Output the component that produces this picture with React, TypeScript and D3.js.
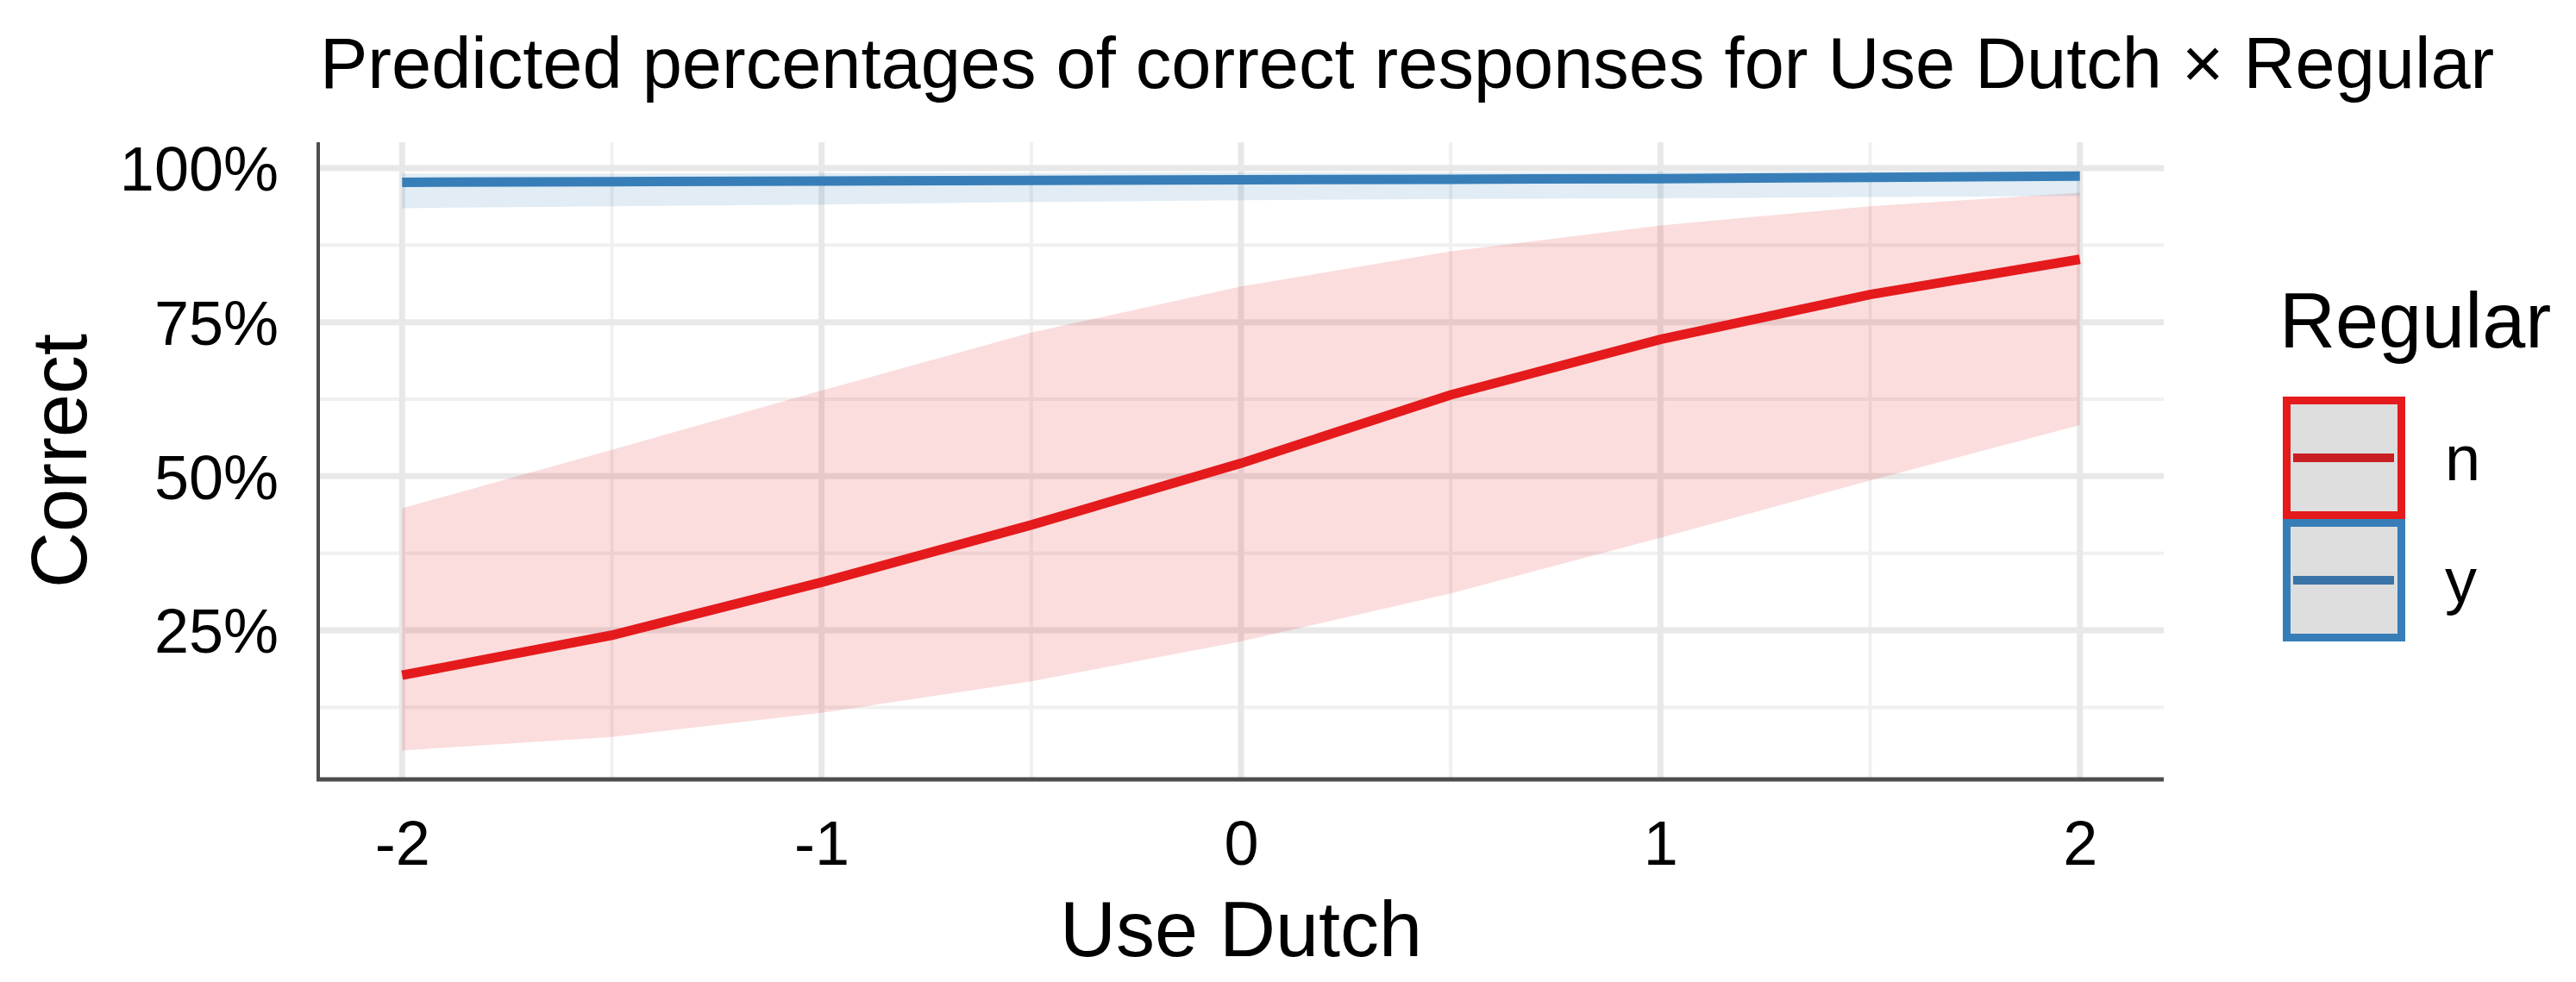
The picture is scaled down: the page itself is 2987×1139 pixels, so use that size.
import * as d3 from 'd3';
import { useEffect, useRef } from 'react';

// Use Dutch (x) values where the model was evaluated
const useDutch = [-2, -1.5, -1, -0.5, 0, 0.5, 1, 1.5, 2];

// Regular = n : predicted proportion correct and its confidence band
const nFit = [0.177, 0.242, 0.328, 0.421, 0.521, 0.632, 0.722, 0.795, 0.852];
const nLower = [0.055, 0.077, 0.116, 0.167, 0.232, 0.31, 0.4, 0.493, 0.583];
const nUpper = [0.448, 0.543, 0.639, 0.733, 0.808, 0.865, 0.907, 0.938, 0.96];

// Regular = y
const yFit = [0.977, 0.978, 0.979, 0.98, 0.981, 0.982, 0.983, 0.985, 0.987];
const yLower = [0.935, 0.938, 0.941, 0.945, 0.948, 0.95, 0.951, 0.953, 0.955];
const yUpper = [0.991, 0.991, 0.992, 0.992, 0.993, 0.993, 0.994, 0.994, 0.995];

const regularLevels = ['n', 'y'];
const xTicks = [-2, -1, 0, 1, 2];
const xMinorTicks = [-1.5, -0.5, 0.5, 1.5];
const yTicks = [0.25, 0.5, 0.75, 1];
const yMinorTicks = [0.125, 0.375, 0.625, 0.875];

export default function App() {
  const chartRef = useRef<SVGSVGElement>(null);

  const width = 2987;
  const height = 1139;
  const panel = { left: 369, right: 2509, top: 165, bottom: 904 };
  const font = "'Liberation Sans', Arial, Helvetica, sans-serif";

  useEffect(() => {
    const svg = d3.select(chartRef.current);
    svg.selectAll('*').remove();

    // ggplot-style 5% expansion on both scales
    const [x0, x1] = d3.extent(useDutch) as [number, number];
    const xPad = (x1 - x0) * 0.05;
    const x = d3
      .scaleLinear()
      .domain([x0 - xPad, x1 + xPad])
      .range([panel.left, panel.right]);

    const allY = [...nLower, ...nUpper, ...yLower, ...yUpper];
    const yMin = d3.min(allY) as number;
    const yMax = d3.max(allY) as number;
    const yPad = (yMax - yMin) * 0.05;
    const y = d3
      .scaleLinear()
      .domain([yMin - yPad, yMax + yPad])
      .range([panel.bottom, panel.top]);

    const color = d3
      .scaleOrdinal<string, string>()
      .domain(regularLevels)
      .range(['#e41a1c', '#377eb8']);
    const keyLine = d3
      .scaleOrdinal<string, string>()
      .domain(regularLevels)
      .range(['#c91e23', '#3a73a7']);

    // Gridlines (minor first, major on top)
    const grid = svg.append('g');
    const hGrid = (vals: number[], major: boolean) => {
      grid
        .selectAll(null)
        .data(vals)
        .enter()
        .append('line')
        .attr('x1', panel.left)
        .attr('x2', panel.right)
        .attr('y1', (d) => y(d))
        .attr('y2', (d) => y(d))
        .attr('stroke', major ? '#e8e8e8' : '#f0f0f0')
        .attr('stroke-width', major ? 7 : 4);
    };
    const vGrid = (vals: number[], major: boolean) => {
      grid
        .selectAll(null)
        .data(vals)
        .enter()
        .append('line')
        .attr('x1', (d) => x(d))
        .attr('x2', (d) => x(d))
        .attr('y1', panel.top)
        .attr('y2', panel.bottom)
        .attr('stroke', major ? '#e8e8e8' : '#f0f0f0')
        .attr('stroke-width', major ? 7 : 4);
    };
    hGrid(yMinorTicks, false);
    vGrid(xMinorTicks, false);
    hGrid(yTicks, true);
    vGrid(xTicks, true);

    const series = [
      { level: 'n', fit: nFit, lower: nLower, upper: nUpper },
      { level: 'y', fit: yFit, lower: yLower, upper: yUpper },
    ];

    // Confidence ribbons
    series.forEach((s) => {
      const ribbon = d3
        .area<number>()
        .x((d) => x(d))
        .y0((d, i) => y(s.lower[i]))
        .y1((d, i) => y(s.upper[i]));
      svg
        .append('path')
        .attr('d', ribbon(useDutch))
        .attr('fill', color(s.level))
        .attr('fill-opacity', 0.15);
    });

    // Predicted lines
    series.forEach((s) => {
      const line = d3
        .line<number>()
        .x((d) => x(d))
        .y((d, i) => y(s.fit[i]));
      svg
        .append('path')
        .attr('d', line(useDutch))
        .attr('fill', 'none')
        .attr('stroke', color(s.level))
        .attr('stroke-width', 11);
    });

    // Axes
    const xAxis = d3
      .axisBottom(x)
      .tickValues(xTicks)
      .tickSize(0)
      .tickFormat((d) => String(d));
    const gx = svg
      .append('g')
      .attr('transform', `translate(0,${panel.bottom})`)
      .call(xAxis);
    gx.select('.domain').remove();
    gx.selectAll('text')
      .attr('y', 99)
      .attr('dy', null)
      .attr('fill', '#000')
      .style('font-family', font)
      .style('font-size', '72px');

    const yAxis = d3
      .axisLeft(y)
      .tickValues(yTicks)
      .tickSize(0)
      .tickFormat(d3.format('.0%'));
    const gy = svg
      .append('g')
      .attr('transform', `translate(${panel.left},0)`)
      .call(yAxis);
    gy.select('.domain').remove();
    gy.selectAll('text')
      .attr('x', -46)
      .attr('dy', '0.36em')
      .attr('fill', '#000')
      .style('font-family', font)
      .style('font-size', '72px');

    // Axis lines
    svg
      .append('line')
      .attr('x1', panel.left)
      .attr('x2', panel.left)
      .attr('y1', panel.top)
      .attr('y2', panel.bottom)
      .attr('stroke', '#4d4d4d')
      .attr('stroke-width', 4);
    svg
      .append('line')
      .attr('x1', panel.left - 2)
      .attr('x2', panel.right)
      .attr('y1', panel.bottom)
      .attr('y2', panel.bottom)
      .attr('stroke', '#4d4d4d')
      .attr('stroke-width', 5);

    // Titles
    svg
      .append('text')
      .text('Predicted percentages of correct responses for Use Dutch × Regular')
      .attr('x', 371)
      .attr('y', 102)
      .style('font-family', font)
      .style('font-size', '83px');
    svg
      .append('text')
      .text('Use Dutch')
      .attr('x', (panel.left + panel.right) / 2)
      .attr('y', 1109)
      .attr('text-anchor', 'middle')
      .style('font-family', font)
      .style('font-size', '90px');
    svg
      .append('text')
      .text('Correct')
      .attr(
        'transform',
        `translate(100,${(panel.top + panel.bottom) / 2}) rotate(-90)`,
      )
      .attr('text-anchor', 'middle')
      .style('font-family', font)
      .style('font-size', '90px');

    // Legend
    const legend = svg.append('g');
    legend
      .append('text')
      .text('Regular')
      .attr('x', 2643)
      .attr('y', 403)
      .style('font-family', font)
      .style('font-size', '90px');
    const keySize = 142;
    const keyTop = 460;
    const keys = legend
      .selectAll('g.key')
      .data(regularLevels)
      .enter()
      .append('g')
      .attr('class', 'key')
      .attr('transform', (d, i) => `translate(2647,${keyTop + i * keySize})`);
    keys
      .append('rect')
      .attr('x', 4.5)
      .attr('y', 4.5)
      .attr('width', keySize - 9)
      .attr('height', keySize - 9)
      .attr('fill', '#dedede')
      .attr('stroke', (d) => color(d))
      .attr('stroke-width', 9);
    keys
      .append('line')
      .attr('x1', 12)
      .attr('x2', 129)
      .attr('y1', keySize / 2)
      .attr('y2', keySize / 2)
      .attr('stroke', (d) => keyLine(d))
      .attr('stroke-width', 10);
    keys
      .append('text')
      .text((d) => d)
      .attr('x', 188)
      .attr('y', keySize / 2 + 26)
      .style('font-family', font)
      .style('font-size', '74px');
  }, []);

  return (
    <svg
      ref={chartRef}
      width={width}
      height={height}
      style={{ position: 'absolute', left: 0, top: 0, background: '#fff' }}
    />
  );
}
